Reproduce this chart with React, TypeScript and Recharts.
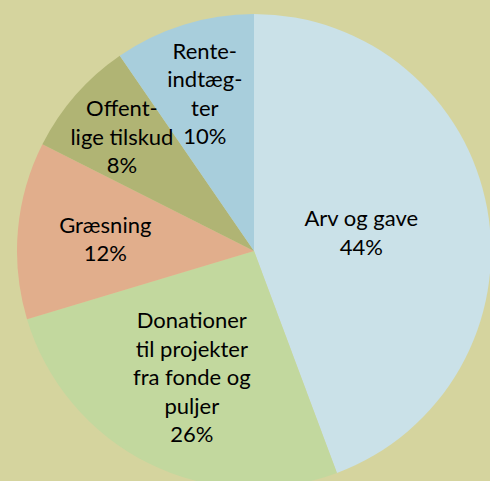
import { Cell, Pie, PieChart } from "recharts";

const categories = [
  "Arv og gave",
  "Donationer til projekter fra fonde og puljer",
  "Græsning",
  "Offentlige tilskud",
  "Renteindtægter",
];
const shares = [44.4, 26.1, 12.1, 8.0, 9.6];
const labelLines = [
  ["Arv og gave"],
  ["Donationer", "til projekter", "fra fonde og", "puljer"],
  ["Græsning"],
  ["Offent-", "lige tilskud"],
  ["Rente-", "indtæg-", "ter"],
];

const colors = ["#cae1e8", "#c2d89e", "#e1ae8c", "#b0b474", "#a8cedc"];
// how far out each label sits, as a share of the radius
const labelRadius = [0.46, 0.59, 0.63, 0.74, 0.7];
const LINE = 28.5;
const RADIAN = Math.PI / 180;

const data = categories.map((name, i) => ({ name, value: shares[i] }));

const renderLabel = (props: any) => {
  const { cx, cy, midAngle, outerRadius, index, percent } = props;
  const r = outerRadius * labelRadius[index];
  const x = cx + r * Math.cos(-midAngle * RADIAN);
  const y = cy + r * Math.sin(-midAngle * RADIAN);
  const lines = [...labelLines[index], `${Math.round(percent * 100)}%`];
  const top = y - ((lines.length - 1) * LINE) / 2;
  return (
    <text
      x={x}
      y={top}
      textAnchor="middle"
      dominantBaseline="central"
      fill="#000"
      fontFamily="Lato"
      fontSize={22}
    >
      {lines.map((l, i) => (
        <tspan key={i} x={x} y={top + i * LINE}>
          {l}
        </tspan>
      ))}
    </text>
  );
};

export default function App() {
  return (
    <div
      style={{
        position: "absolute",
        top: 0,
        left: 0,
        width: 490,
        height: 481,
        background: "#d5d49e",
      }}
    >
      <PieChart width={490} height={481} margin={{ top: 0, right: 0, bottom: 0, left: 0 }}>
        <Pie
          data={data}
          dataKey="value"
          nameKey="name"
          cx={254}
          cy={251}
          outerRadius={237}
          startAngle={90}
          endAngle={-270}
          stroke="none"
          label={renderLabel}
          labelLine={false}
          isAnimationActive={false}
        >
          {data.map((d, i) => (
            <Cell key={d.name} fill={colors[i]} />
          ))}
        </Pie>
      </PieChart>
    </div>
  );
}
